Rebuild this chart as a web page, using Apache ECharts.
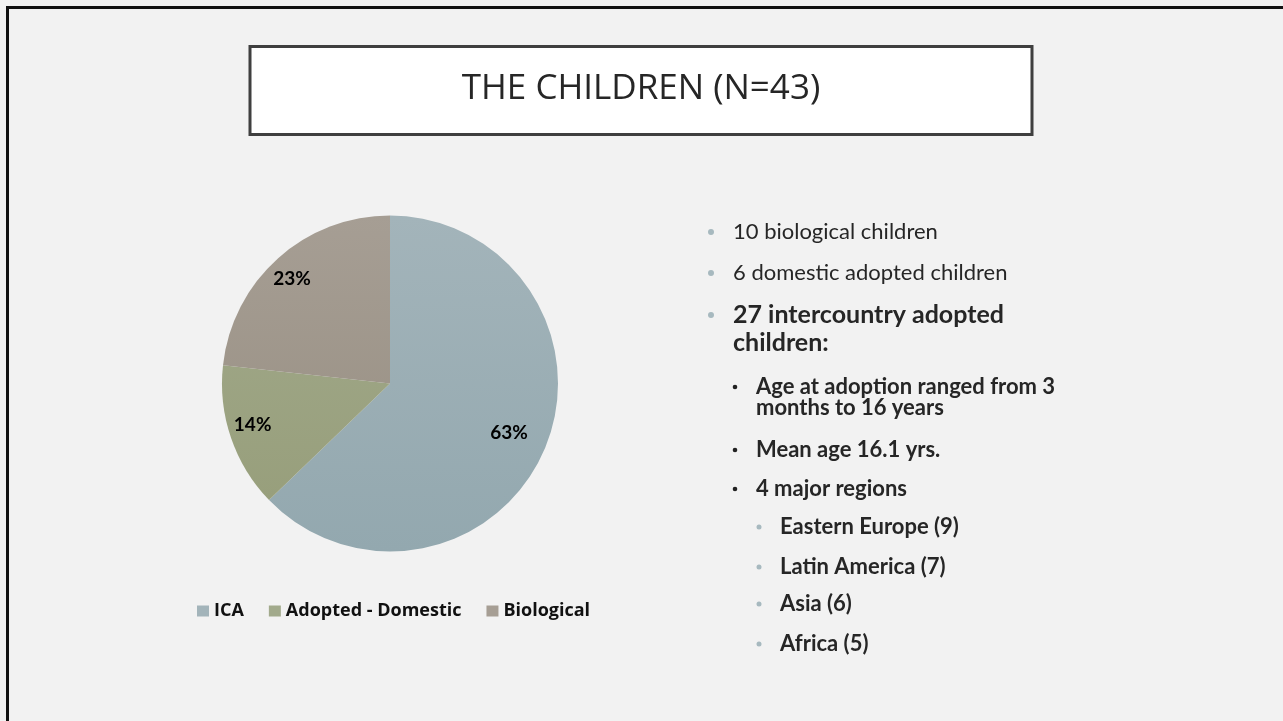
<!DOCTYPE html>
<html>
<head>
<meta charset="utf-8">
<title>The Children (N=43)</title>
<script src="https://cdn.jsdelivr.net/npm/echarts@6/dist/echarts.min.js"></script>
<style>
  html, body { margin: 0; padding: 0; background: #f2f2f2; }
  #chart { width: 1283px; height: 721px; }
</style>
</head>
<body>
<div id="chart"></div>
<script>
// Pie data: number of children in each group
const categories = ['ICA', 'Adopted - Domestic', 'Biological'];
const counts = [27, 6, 10];

// Slide heading
const titleText = 'THE CHILDREN (N=43)';

// Bullet text, one entry per drawn line: [text, level, bold]
const bulletLines = [
  ['10 biological children', 1, false],
  ['6 domestic adopted children', 1, false],
  ['27 intercountry adopted', 1, true],
  ['children:', 1, true],
  ['Age at adoption ranged from 3', 2, true],
  ['months to 16 years', 2, true],
  ['Mean age 16.1 yrs.', 2, true],
  ['4 major regions', 2, true],
  ['Eastern Europe (9)', 3, true],
  ['Latin America (7)', 3, true],
  ['Asia (6)', 3, true],
  ['Africa (5)', 3, true]
];

// ---- layout and styling ----
const lineY = [232, 273, 315, 343, 387, 408, 450, 489, 527, 567, 604, 644];
const hasBullet = [true, true, true, false, true, false, true, true, true, true, true, true];
const levelStyle = {
  1: { textX: 733, bulletX: 711, size: 22, boldSize: 25, bullet: 'dot', r: 3 },
  2: { textX: 756, bulletX: 735, size: 22, boldSize: 22, bullet: 'char' },
  3: { textX: 780, bulletX: 759, size: 22, boldSize: 22, bullet: 'dot', r: 2.5 }
};
const bulletBlue = '#a7b9bf';
const textColor = '#262626';

const sliceColors = [
  ['#a3b4ba', '#93a8af'],
  ['#a2aa8c', '#969d79'],
  ['#a69e94', '#968d80']
];
const pieCenter = [390, 383.5];
const pieRadius = 168;
// label nudges so percentages sit where the slide places them
const labelOffsets = [[39, 15], [-55, 13], [-40, -40]];

function sliceFill(i) {
  return new echarts.graphic.LinearGradient(0, pieCenter[1] - pieRadius, 0, pieCenter[1] + pieRadius, [
    { offset: 0, color: sliceColors[i][0] },
    { offset: 1, color: sliceColors[i][1] }
  ], true);
}

const graphics = [];

// slide frame (top and left edge)
graphics.push({
  type: 'line', shape: { x1: 6, y1: 7.5, x2: 1283, y2: 7.5 },
  style: { stroke: '#111', lineWidth: 3 }, silent: true
});
graphics.push({
  type: 'line', shape: { x1: 7.5, y1: 6, x2: 7.5, y2: 721 },
  style: { stroke: '#111', lineWidth: 3 }, silent: true
});

// title box
graphics.push({
  type: 'rect', shape: { x: 250, y: 46.5, width: 782, height: 88 },
  style: { fill: '#ffffff', stroke: '#3f3f3f', lineWidth: 3 }, silent: true
});
graphics.push({
  type: 'text', x: 641, y: 89,
  style: {
    text: titleText, fill: textColor, align: 'center', verticalAlign: 'middle',
    font: '35px "Open Sans", sans-serif'
  }, silent: true
});

// bullet list
bulletLines.forEach(function (line, i) {
  const st = levelStyle[line[1]];
  const y = lineY[i];
  const size = line[2] ? st.boldSize : st.size;
  if (hasBullet[i]) {
    if (st.bullet === 'dot') {
      graphics.push({
        type: 'circle', shape: { cx: st.bulletX, cy: y, r: st.r },
        style: { fill: bulletBlue }, silent: true
      });
    } else {
      graphics.push({
        type: 'circle', shape: { cx: st.bulletX, cy: y, r: 2.3 },
        style: { fill: '#222' }, silent: true
      });
    }
  }
  graphics.push({
    type: 'text', x: st.textX, y: y,
    style: {
      text: line[0], fill: textColor, align: 'left', verticalAlign: 'middle',
      font: (line[2] ? 'bold ' : '') + size + 'px Lato, sans-serif'
    }, silent: true
  });
});

const chart = echarts.init(document.getElementById('chart'), null, { renderer: 'canvas' });
chart.setOption({
  backgroundColor: '#f2f2f2',
  animation: false,
  legend: {
    left: 197,
    top: 602,
    padding: 0,
    itemWidth: 12,
    itemHeight: 11,
    itemGap: 25,
    icon: 'rect',
    textStyle: {
      fontFamily: '"Open Sans", sans-serif',
      fontWeight: 'bold',
      fontSize: 18,
      color: '#111'
    },
    data: categories
  },
  series: [{
    type: 'pie',
    center: pieCenter,
    radius: [0, pieRadius],
    startAngle: 90,
    clockwise: true,
    silent: true,
    itemStyle: { borderWidth: 0 },
    label: {
      show: true,
      position: 'inside',
      fontFamily: 'Lato, sans-serif',
      fontWeight: 'bold',
      fontSize: 19,
      color: '#000',
      formatter: function (p) { return Math.round(p.percent) + '%'; }
    },
    labelLine: { show: false },
    data: categories.map(function (name, i) {
      return {
        name: name,
        value: counts[i],
        itemStyle: { color: sliceFill(i) },
        label: { offset: labelOffsets[i] }
      };
    })
  }],
  graphic: graphics
});
</script>
</body>
</html>
